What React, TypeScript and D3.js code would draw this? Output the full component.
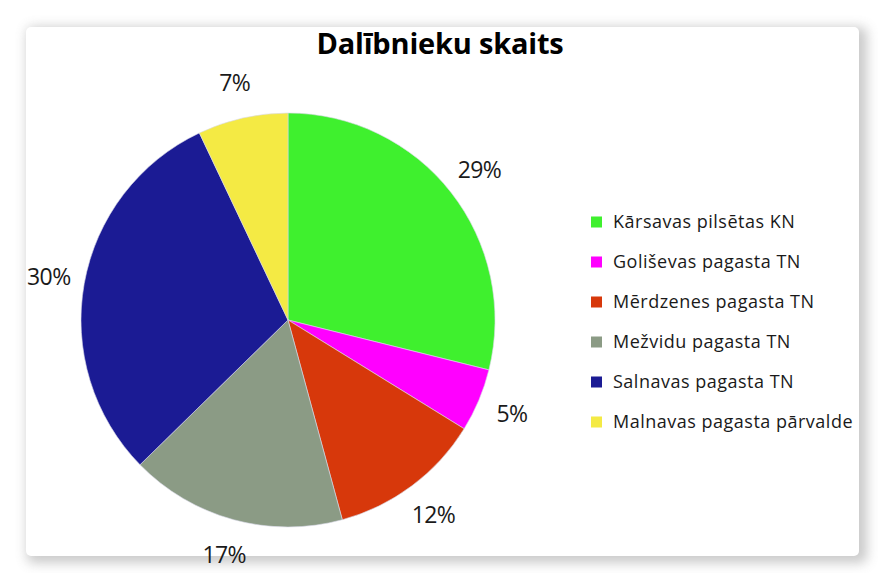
import React from "react";
import * as d3 from "d3";

const categories = [
  "Kārsavas pilsētas KN",
  "Goliševas pagasta TN",
  "Mērdzenes pagasta TN",
  "Mežvidu pagasta TN",
  "Salnavas pagasta TN",
  "Malnavas pagasta pārvalde",
];
const values = [41, 7, 17, 24, 43, 10];
const colors = ["#3ff02e", "#ff00ff", "#d7380b", "#8b9b85", "#1b1b94", "#f4ea44"];
const title = "Dalībnieku skaits";

const W = 878;
const H = 573;
const cx = 288;
const cy = 320;
const R = 207;
const labelR = 243;
const FONT = "'Open Sans', 'DejaVu Sans', sans-serif";

export default function App() {
  const total = d3.sum(values);
  const pie = d3
    .pie<number>()
    .sort(null)
    .value((d) => d);
  const arcs = pie(values);
  const arc = d3.arc<d3.PieArcDatum<number>>().innerRadius(0).outerRadius(R);
  const labelArc = d3
    .arc<d3.PieArcDatum<number>>()
    .innerRadius(labelR)
    .outerRadius(labelR);
  const legendY = d3.scalePoint<number>().domain(d3.range(categories.length)).range([222, 422]);

  return (
    <svg
      width={W}
      height={H}
      style={{ position: "absolute", left: 0, top: 0, background: "#fff" }}
    >
      <defs>
        <filter id="sh" x="-10%" y="-10%" width="120%" height="120%">
          <feGaussianBlur stdDeviation="6" />
        </filter>
      </defs>
      <rect x={24} y={24} width={840} height={536} rx={6} fill="#8a8a8a" opacity={0.45} filter="url(#sh)" transform="translate(3,3)" />
      <rect x={26} y={27} width={833} height={529} rx={5} fill="#ffffff" />
      <text
        x={440}
        y={54}
        textAnchor="middle"
        fontFamily={FONT}
        fontWeight={700}
        fontSize={29}
        fill="#000"
        letterSpacing={-0.2}
      >
        {title}
      </text>
      <g transform={`translate(${cx},${cy})`}>
        {arcs.map((a, i) => (
          <path key={i} d={arc(a) || ""} fill={colors[i]} stroke="#d8d8e8" strokeWidth={0.6} />
        ))}
        {arcs.map((a, i) => {
          const [x, y] = labelArc.centroid(a);
          return (
            <text
              key={i}
              x={x}
              y={y}
              dy="0.35em"
              textAnchor="middle"
              fontFamily={FONT}
              fontSize={23}
              fill="#1a1a1a"
              letterSpacing={-0.6}
            >
              {Math.round((values[i] / total) * 100)}%
            </text>
          );
        })}
      </g>
      {categories.map((c, i) => (
        <g key={c} transform={`translate(591,${legendY(i)})`}>
          <rect x={0} y={-5.5} width={11} height={11} fill={colors[i]} />
          <text
            x={22}
            y={0}
            dy="0.35em"
            fontFamily={FONT}
            fontSize={18}
            fill="#1a1a1a"
            letterSpacing={0.5}
          >
            {c}
          </text>
        </g>
      ))}
    </svg>
  );
}
